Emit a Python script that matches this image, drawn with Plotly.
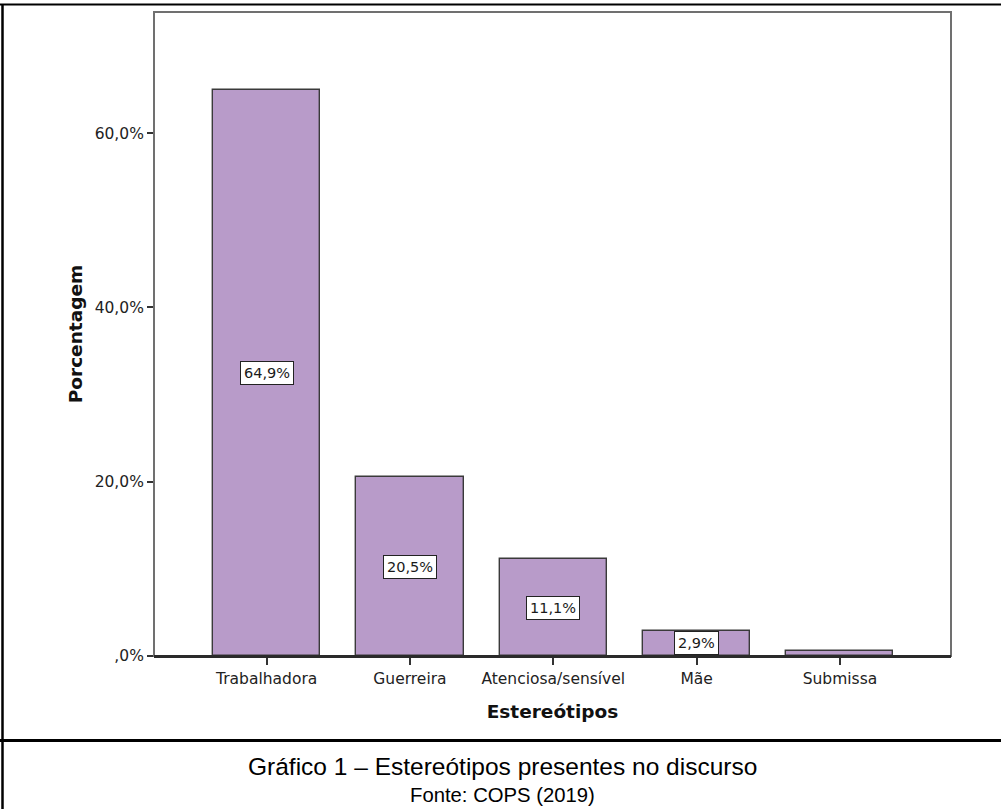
import plotly.graph_objects as go

# Estereótipos presentes no discurso (percentual de menções)
categorias = ["Trabalhadora", "Guerreira", "Atenciosa/sensível", "Mãe", "Submissa"]
percentuais = [64.9, 20.5, 11.1, 2.9, 0.6]
rotulos = ["64,9%", "20,5%", "11,1%", "2,9%", None]

ticks_y = [0, 20, 40, 60]
ticks_y_texto = [",0%", "20,0%", "40,0%", "60,0%"]

W, H = 1001, 809
HP = 800.0  # altura usada para converter pixels em coordenadas "paper"
COR_BARRA = "#b89bc9"
FONTE_SPSS = "DejaVu Sans"


def py(pix):
    return 1 - pix / HP


fig = go.Figure()
fig.add_trace(go.Bar(
    x=categorias,
    y=percentuais,
    width=0.747,
    marker=dict(color=COR_BARRA, line=dict(color="#3a3a3a", width=1.4)),
    hoverinfo="skip",
))

# rótulos de valor centralizados em cada barra
for cat, val, txt in zip(categorias, percentuais, rotulos):
    if txt is None:
        continue
    fig.add_annotation(
        x=cat, y=val / 2, text=txt, showarrow=False,
        font=dict(family=FONTE_SPSS, size=14.5, color="#1a1a1a"),
        bgcolor="white", bordercolor="#222222", borderwidth=1, borderpad=3,
    )

x0, x1 = 154 / W, 951 / W
y0, y1 = py(656), py(12)

fig.update_layout(
    width=W, height=H,
    autosize=False,
    margin=dict(l=0, r=0, t=0, b=0, pad=0),
    paper_bgcolor="white", plot_bgcolor="white",
    showlegend=False,
    bargap=0,
    xaxis=dict(
        domain=[x0, x1],
        range=[-0.786, 4.775],
        showgrid=False, zeroline=False,
        showline=True, linecolor="#2a2a2a", linewidth=2,
        ticks="outside", ticklen=7, tickwidth=1.5, tickcolor="#333333",
        tickfont=dict(family=FONTE_SPSS, size=15.5, color="#222222"),
        title=dict(text="<b>Estereótipos</b>", standoff=18,
                   font=dict(family=FONTE_SPSS, size=18.5, color="#111111")),
    ),
    yaxis=dict(
        domain=[y0, y1],
        range=[0, 73.9],
        showgrid=False, zeroline=False,
        showline=False,
        tickvals=ticks_y, ticktext=ticks_y_texto,
        ticks="outside", ticklen=6, tickwidth=1.5, tickcolor="#333333",
        tickfont=dict(family=FONTE_SPSS, size=15.5, color="#222222"),
        title=dict(text="<b>Porcentagem</b>", standoff=7,
                   font=dict(family=FONTE_SPSS, size=18.5, color="#111111")),
    ),
)

# moldura da área do gráfico
fig.add_shape(type="rect", xref="x domain", yref="y domain",
              x0=0, x1=1, y0=0, y1=1,
              line=dict(color="#707070", width=2), layer="below")
fig.add_shape(type="line", xref="x domain", yref="y domain",
              x0=0, x1=1, y0=0, y1=0,
              line=dict(color="#2a2a2a", width=2), layer="above")

# bordas da tabela da figura
fig.add_shape(type="line", xref="paper", yref="paper",
              x0=0, x1=1, y0=py(4.5), y1=py(4.5),
              line=dict(color="black", width=2))
fig.add_shape(type="line", xref="paper", yref="paper",
              x0=2.5 / W, x1=2.5 / W, y0=-0.05, y1=py(4.5),
              line=dict(color="black", width=2.5))
fig.add_shape(type="line", xref="paper", yref="paper",
              x0=0, x1=1, y0=py(740.5), y1=py(740.5),
              line=dict(color="black", width=3))

# legenda da figura
fig.add_annotation(xref="paper", yref="paper", x=502 / W, y=py(766),
                   text="Gráfico 1 – Estereótipos presentes no discurso",
                   showarrow=False, xanchor="center", yanchor="middle",
                   font=dict(family="Liberation Sans", size=24.5, color="black"))
fig.add_annotation(xref="paper", yref="paper", x=502 / W, y=py(795),
                   text="Fonte: COPS (2019)",
                   showarrow=False, xanchor="center", yanchor="middle",
                   font=dict(family="Liberation Sans", size=20.3, color="black"))

fig.write_html("out.html", config={"responsive": False})
